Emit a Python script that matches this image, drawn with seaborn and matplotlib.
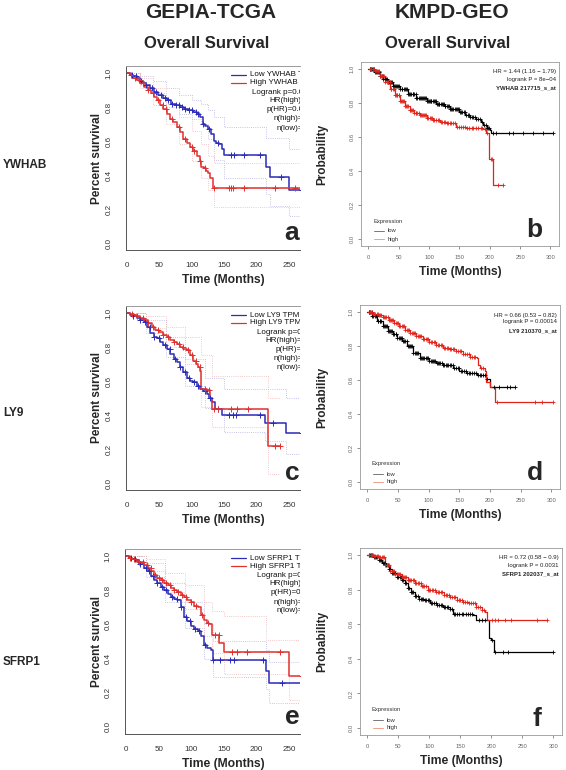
import numpy as np
import matplotlib.pyplot as plt
from matplotlib.lines import Line2D
import seaborn as sns

sns.set_style("white")
plt.rcParams['font.family'] = ['Liberation Sans', 'DejaVu Sans']

# ---------------- values ----------------
genes = ["YWHAB", "LY9", "SFRP1"]
gepia_letters = ["a", "c", "e"]
kmpd_letters = ["b", "d", "f"]

gepia_logrank = ["0.0057", "0.038", "0.028"]
gepia_hr = ["1.6", "0.71", "0.7"]
gepia_phr = ["0.0062", "0.04", "0.028"]
gepia_nhigh = ["535", "534", "535"]
gepia_nlow = ["535", "532", "535"]

kmpd_hr = ["1.44 (1.16 \u2212 1.79)", "0.66 (0.53 \u2212 0.82)", "0.72 (0.58 \u2212 0.9)"]
kmpd_p = ["8e\u221204", "0.00014", "0.0031"]
kmpd_probe = ["217715_s_at", "210370_s_at", "202037_s_at"]

# GEPIA - YWHAB
ywhab_g_low_t = [0, 5, 10, 15, 20, 25, 30, 36, 42, 48, 55, 61, 68, 75, 82, 88, 95, 102, 108, 113, 117, 121, 125, 130, 134, 138, 142, 146, 150, 214, 220, 250, 290]
ywhab_g_low_s = [1.0, 0.99, 0.98, 0.97, 0.95, 0.94, 0.93, 0.91, 0.89, 0.87, 0.85, 0.84, 0.82, 0.81, 0.80, 0.79, 0.78, 0.77, 0.76, 0.74, 0.70, 0.69, 0.67, 0.64, 0.60, 0.59, 0.58, 0.55, 0.517, 0.45, 0.39, 0.31, 0.31]
ywhab_g_high_t = [0, 5, 10, 15, 20, 26, 32, 37, 41, 46, 51, 56, 61, 66, 71, 77, 82, 87, 92, 97, 102, 108, 112, 115, 119, 122, 125, 128, 132, 290]
ywhab_g_high_s = [1.0, 0.99, 0.97, 0.96, 0.94, 0.92, 0.90, 0.88, 0.86, 0.84, 0.81, 0.79, 0.76, 0.73, 0.71, 0.68, 0.65, 0.61, 0.59, 0.566, 0.54, 0.51, 0.48, 0.45, 0.44, 0.425, 0.41, 0.38, 0.325, 0.325]
ywhab_g_low_cens = [8, 14, 22, 30, 38, 45, 52, 58, 64, 70, 76, 80, 85, 90, 96, 100, 106, 110, 118, 126, 140, 160, 165, 180, 205, 238, 270]
ywhab_g_high_cens = [6, 12, 18, 25, 33, 40, 48, 55, 60, 70, 80, 90, 100, 104, 112, 120, 135, 158, 161, 164, 180, 228, 260]
ywhab_g_low_ci_t = [0, 20, 40, 60, 80, 100, 115, 125, 135, 150, 214, 220, 250, 290]
ywhab_g_low_up = [1.0, 0.98, 0.95, 0.91, 0.87, 0.84, 0.82, 0.78, 0.74, 0.68, 0.62, 0.62, 0.55, 0.55]
ywhab_g_low_lo = [1.0, 0.93, 0.88, 0.80, 0.76, 0.73, 0.70, 0.61, 0.49, 0.38, 0.29, 0.22, 0.16, 0.16]
ywhab_g_high_ci_t = [0, 20, 40, 60, 80, 100, 115, 125, 135, 290]
ywhab_g_high_up = [1.0, 0.97, 0.91, 0.82, 0.74, 0.66, 0.58, 0.51, 0.47, 0.47]
ywhab_g_high_lo = [1.0, 0.91, 0.81, 0.70, 0.58, 0.48, 0.38, 0.31, 0.21, 0.21]

# GEPIA - LY9
ly9_g_low_t = [0, 5, 10, 15, 20, 26, 31, 36, 41, 46, 51, 56, 61, 67, 72, 77, 82, 87, 92, 97, 102, 108, 113, 118, 123, 127, 131, 136, 147, 213, 246, 290]
ly9_g_low_s = [1.0, 0.99, 0.98, 0.97, 0.96, 0.947, 0.92, 0.88, 0.86, 0.85, 0.83, 0.81, 0.79, 0.76, 0.73, 0.71, 0.68, 0.65, 0.62, 0.60, 0.594, 0.57, 0.555, 0.54, 0.525, 0.50, 0.476, 0.437, 0.40, 0.353, 0.294, 0.294]
ly9_g_high_t = [0, 5, 10, 15, 20, 26, 32, 38, 44, 50, 56, 61, 67, 72, 77, 82, 87, 92, 97, 102, 107, 110, 113, 115, 123, 128, 131, 218, 236]
ly9_g_high_s = [1.0, 0.995, 0.99, 0.98, 0.97, 0.957, 0.94, 0.92, 0.90, 0.89, 0.87, 0.86, 0.84, 0.83, 0.82, 0.80, 0.79, 0.78, 0.75, 0.72, 0.70, 0.68, 0.66, 0.555, 0.545, 0.50, 0.435, 0.22, 0.22]
ly9_g_low_cens = [10, 20, 28, 35, 42, 50, 58, 66, 74, 82, 90, 96, 104, 110, 120, 128, 140, 158, 163, 168, 205, 225, 270]
ly9_g_high_cens = [8, 16, 24, 32, 40, 48, 56, 64, 72, 80, 86, 94, 100, 106, 112, 120, 126, 135, 140, 160, 170, 186, 228, 236]
ly9_g_low_ci_t = [0, 30, 60, 90, 120, 150, 213, 246, 290]
ly9_g_low_up = [1.0, 0.96, 0.86, 0.73, 0.62, 0.555, 0.555, 0.50, 0.50]
ly9_g_low_lo = [1.0, 0.88, 0.74, 0.57, 0.44, 0.30, 0.25, 0.17, 0.17]
ly9_g_high_ci_t = [0, 30, 60, 90, 115, 131, 218, 236]
ly9_g_high_up = [1.0, 0.98, 0.92, 0.86, 0.75, 0.63, 0.50, 0.50]
ly9_g_high_lo = [1.0, 0.91, 0.80, 0.70, 0.45, 0.33, 0.055, 0.055]

# GEPIA - SFRP1
sfrp1_g_low_t = [0, 5, 10, 15, 20, 28, 34, 39, 43, 48, 53, 59, 64, 69, 74, 79, 84, 89, 94, 99, 105, 110, 115, 120, 125, 130, 133, 215, 219, 290]
sfrp1_g_low_s = [1.0, 0.99, 0.98, 0.97, 0.955, 0.93, 0.91, 0.885, 0.86, 0.84, 0.82, 0.80, 0.78, 0.76, 0.75, 0.74, 0.70, 0.646, 0.62, 0.59, 0.575, 0.56, 0.53, 0.48, 0.46, 0.45, 0.39, 0.325, 0.26, 0.26]
sfrp1_g_high_t = [0, 5, 10, 15, 20, 28, 34, 39, 43, 48, 53, 59, 64, 69, 74, 79, 84, 89, 94, 99, 105, 110, 115, 120, 124, 128, 132, 143, 150, 250, 290]
sfrp1_g_high_s = [1.0, 0.99, 0.985, 0.975, 0.965, 0.947, 0.93, 0.91, 0.89, 0.87, 0.86, 0.84, 0.83, 0.81, 0.80, 0.79, 0.77, 0.76, 0.74, 0.73, 0.71, 0.70, 0.656, 0.626, 0.61, 0.60, 0.54, 0.49, 0.44, 0.296, 0.296]
sfrp1_g_low_cens = [8, 14, 22, 30, 36, 42, 48, 56, 62, 70, 78, 84, 92, 98, 106, 112, 122, 134, 145, 160, 165, 210, 240, 275]
sfrp1_g_high_cens = [6, 12, 20, 26, 32, 38, 44, 50, 56, 62, 68, 74, 80, 86, 92, 100, 108, 116, 126, 136, 142, 163, 170, 185, 237, 270]
sfrp1_g_low_ci_t = [0, 30, 60, 90, 120, 133, 215, 219, 290]
sfrp1_g_low_up = [1.0, 0.96, 0.84, 0.73, 0.60, 0.50, 0.45, 0.38, 0.38]
sfrp1_g_low_lo = [1.0, 0.88, 0.73, 0.58, 0.40, 0.29, 0.22, 0.14, 0.14]
sfrp1_g_high_ci_t = [0, 30, 60, 90, 120, 132, 150, 215, 250, 290]
sfrp1_g_high_up = [1.0, 0.98, 0.90, 0.83, 0.73, 0.68, 0.65, 0.51, 0.51, 0.51]
sfrp1_g_high_lo = [1.0, 0.91, 0.79, 0.69, 0.53, 0.43, 0.31, 0.31, 0.16, 0.16]

# KMPD - YWHAB
ywhab_k_low_t = [0, 10, 20, 25, 33, 41, 52, 65, 79, 96, 112, 125, 134, 150, 160, 167, 178, 185, 189, 195, 200, 202, 304]
ywhab_k_low_s = [1.0, 0.98, 0.955, 0.94, 0.92, 0.90, 0.88, 0.855, 0.83, 0.81, 0.795, 0.78, 0.766, 0.746, 0.73, 0.717, 0.707, 0.69, 0.668, 0.65, 0.64, 0.625, 0.625]
ywhab_k_high_t = [0, 10, 19, 28, 36, 44, 52, 60, 68, 76, 85, 96, 107, 118, 129, 145, 161, 189, 194, 199, 206, 221]
ywhab_k_high_s = [1.0, 0.985, 0.96, 0.92, 0.88, 0.845, 0.81, 0.78, 0.756, 0.74, 0.727, 0.71, 0.70, 0.69, 0.68, 0.66, 0.654, 0.648, 0.625, 0.47, 0.316, 0.316]
ywhab_k_low_cens = [2, 3, 5, 6, 8, 9, 11, 13, 15, 16, 18, 20, 22, 24, 25, 27, 29, 31, 33, 34, 36, 37, 39, 41, 43, 44, 46, 48, 49, 51, 53, 55, 56, 58, 60, 62, 64, 65, 67, 69, 71, 73, 74, 76, 78, 79, 81, 83, 85, 86, 88, 90, 92, 94, 95, 97, 98, 100, 101, 103, 104, 106, 108, 110, 111, 113, 114, 116, 117, 119, 121, 123, 124, 126, 127, 129, 131, 133, 135, 136, 138, 140, 142, 144, 146, 148, 149, 151, 153, 155, 157, 159, 161, 164, 166, 168, 170, 173, 175, 178, 181, 184, 187, 190, 193, 195, 197, 199, 205, 211, 232, 238, 254, 271, 287, 304]
ywhab_k_high_cens = [2, 4, 5, 7, 9, 11, 12, 14, 16, 17, 19, 21, 23, 25, 26, 28, 30, 32, 33, 35, 37, 38, 40, 42, 44, 45, 47, 48, 50, 51, 53, 54, 56, 57, 59, 61, 62, 64, 66, 68, 69, 71, 72, 74, 76, 78, 79, 81, 83, 85, 86, 88, 90, 91, 93, 95, 97, 99, 101, 103, 105, 107, 109, 112, 114, 116, 119, 121, 124, 126, 129, 131, 134, 137, 140, 143, 146, 149, 152, 156, 159, 163, 166, 170, 173, 177, 181, 185, 188, 192, 196, 202, 204, 213, 221]

# KMPD - LY9
ly9_k_low_t = [0, 8, 16, 25, 33, 41, 49, 57, 65, 74, 85, 101, 112, 123, 140, 150, 161, 178, 194, 200, 241]
ly9_k_low_s = [1.0, 0.975, 0.945, 0.917, 0.89, 0.868, 0.845, 0.828, 0.80, 0.76, 0.73, 0.71, 0.70, 0.69, 0.67, 0.655, 0.64, 0.63, 0.605, 0.558, 0.558]
ly9_k_high_t = [0, 10, 18, 25, 35, 44, 52, 62, 70, 79, 90, 101, 112, 123, 135, 145, 156, 167, 178, 181, 184, 191, 194, 200, 208, 303]
ly9_k_high_s = [1.0, 0.99, 0.98, 0.97, 0.95, 0.935, 0.917, 0.895, 0.875, 0.858, 0.84, 0.82, 0.805, 0.79, 0.78, 0.77, 0.75, 0.735, 0.73, 0.69, 0.67, 0.65, 0.59, 0.558, 0.473, 0.473]
ly9_k_low_cens = [2, 3, 5, 7, 8, 10, 12, 14, 15, 17, 18, 20, 21, 23, 25, 27, 29, 30, 32, 34, 36, 37, 39, 40, 42, 44, 46, 47, 49, 51, 53, 55, 56, 58, 60, 62, 64, 66, 68, 70, 71, 73, 75, 77, 79, 81, 83, 85, 87, 89, 91, 93, 95, 97, 99, 101, 103, 105, 107, 109, 111, 113, 115, 117, 119, 121, 123, 125, 128, 130, 132, 134, 137, 139, 142, 144, 147, 149, 152, 154, 157, 160, 163, 165, 168, 171, 174, 177, 180, 183, 186, 189, 192, 195, 206, 214, 227, 232, 241]
ly9_k_high_cens = [2, 4, 6, 8, 10, 11, 13, 15, 17, 19, 21, 23, 25, 27, 29, 31, 33, 35, 37, 38, 40, 42, 44, 46, 48, 50, 52, 54, 56, 58, 60, 62, 64, 66, 68, 70, 72, 74, 76, 78, 80, 82, 84, 86, 88, 90, 93, 95, 97, 99, 101, 103, 106, 108, 110, 112, 115, 117, 120, 122, 125, 127, 130, 132, 135, 137, 140, 142, 145, 148, 151, 153, 156, 159, 162, 165, 168, 171, 174, 176, 186, 189, 211, 273, 284, 303]

# KMPD - SFRP1
sfrp1_k_low_t = [0, 10, 18, 24, 29, 34, 39, 47, 55, 60, 65, 70, 76, 84, 91, 101, 112, 122, 133, 138, 170, 175, 196, 200, 204, 300]
sfrp1_k_low_s = [1.0, 0.99, 0.97, 0.955, 0.94, 0.92, 0.894, 0.875, 0.856, 0.835, 0.81, 0.785, 0.76, 0.748, 0.737, 0.725, 0.71, 0.70, 0.69, 0.66, 0.654, 0.625, 0.52, 0.51, 0.437, 0.437]
sfrp1_k_high_t = [0, 10, 18, 29, 37, 44, 55, 65, 76, 87, 97, 110, 123, 133, 144, 154, 164, 175, 185, 189, 193, 290]
sfrp1_k_high_s = [1.0, 0.995, 0.99, 0.94, 0.91, 0.89, 0.875, 0.855, 0.837, 0.82, 0.80, 0.785, 0.77, 0.755, 0.74, 0.73, 0.72, 0.70, 0.683, 0.673, 0.627, 0.627]
sfrp1_k_low_cens = [2, 4, 6, 8, 10, 12, 14, 16, 18, 20, 22, 25, 27, 28, 30, 33, 35, 37, 39, 41, 43, 45, 48, 50, 52, 54, 56, 58, 61, 63, 65, 67, 70, 72, 74, 77, 79, 81, 84, 86, 88, 90, 93, 95, 98, 100, 103, 105, 108, 110, 113, 115, 118, 120, 123, 125, 128, 130, 133, 136, 139, 142, 145, 148, 152, 155, 159, 162, 165, 168, 180, 185, 190, 201, 206, 218, 227, 300]
sfrp1_k_high_cens = [2, 3, 5, 7, 9, 11, 13, 15, 17, 19, 21, 23, 25, 27, 29, 31, 33, 35, 37, 39, 41, 43, 45, 47, 49, 51, 53, 55, 57, 59, 61, 63, 65, 67, 69, 71, 73, 75, 77, 79, 82, 84, 86, 88, 90, 92, 95, 97, 99, 101, 104, 106, 109, 111, 114, 116, 119, 121, 124, 126, 129, 131, 134, 136, 139, 141, 144, 147, 150, 152, 155, 158, 161, 164, 167, 170, 173, 176, 179, 182, 185, 188, 201, 206, 211, 222, 232, 274, 290]

gepia_curves = [
    (ywhab_g_low_t, ywhab_g_low_s, ywhab_g_low_cens, ywhab_g_high_t, ywhab_g_high_s, ywhab_g_high_cens,
     ywhab_g_low_ci_t, ywhab_g_low_up, ywhab_g_low_lo, ywhab_g_high_ci_t, ywhab_g_high_up, ywhab_g_high_lo),
    (ly9_g_low_t, ly9_g_low_s, ly9_g_low_cens, ly9_g_high_t, ly9_g_high_s, ly9_g_high_cens,
     ly9_g_low_ci_t, ly9_g_low_up, ly9_g_low_lo, ly9_g_high_ci_t, ly9_g_high_up, ly9_g_high_lo),
    (sfrp1_g_low_t, sfrp1_g_low_s, sfrp1_g_low_cens, sfrp1_g_high_t, sfrp1_g_high_s, sfrp1_g_high_cens,
     sfrp1_g_low_ci_t, sfrp1_g_low_up, sfrp1_g_low_lo, sfrp1_g_high_ci_t, sfrp1_g_high_up, sfrp1_g_high_lo),
]
kmpd_curves = [
    (ywhab_k_low_t, ywhab_k_low_s, ywhab_k_low_cens, ywhab_k_high_t, ywhab_k_high_s, ywhab_k_high_cens),
    (ly9_k_low_t, ly9_k_low_s, ly9_k_low_cens, ly9_k_high_t, ly9_k_high_s, ly9_k_high_cens),
    (sfrp1_k_low_t, sfrp1_k_low_s, sfrp1_k_low_cens, sfrp1_k_high_t, sfrp1_k_high_s, sfrp1_k_high_cens),
]

# ---------------- layout (pixels, top-left origin) ----------------
W, H = 566, 770
fig = plt.figure(figsize=(W / 100, H / 100), dpi=100)
fig.patch.set_facecolor("white")

gepia_boxes = [(126, 66, 300, 250), (126, 306, 300, 490), (125, 549, 300, 734)]
kmpd_boxes = [(361, 62, 559, 246), (360, 305, 560, 489), (360, 548, 562, 735)]
row_label_y = [165, 413, 662]

BLUE = "#2b2bb8"
RED = "#e03030"
BLUE_CI = "#b2b2e2"
RED_CI = "#f0b6b6"
K_RED = "#e2231a"


def fx(x):
    return x / W


def fy(y):
    return 1 - y / H


def add_box(l, t, r, b):
    return fig.add_axes([fx(l), fy(b), (r - l) / W, (b - t) / H])


def step_value(t, s, x):
    idx = np.searchsorted(np.asarray(t), np.asarray(x), side="right") - 1
    return np.asarray(s)[np.clip(idx, 0, len(s) - 1)]


def km_curve(ax, t, s, cens, color, lw, ms, mlw):
    sns.lineplot(x=t, y=s, drawstyle="steps-post", color=color, linewidth=lw,
                 estimator=None, sort=False, ax=ax)
    sns.scatterplot(x=cens, y=step_value(t, s, cens), marker="+", color=color,
                    s=ms, linewidth=mlw, ax=ax, zorder=3)


def ci_curve(ax, t, s, color):
    sns.lineplot(x=t, y=s, drawstyle="steps-post", color=color, linewidth=0.6,
                 linestyle=(0, (1, 1.6)), estimator=None, sort=False, ax=ax)


# headers
fig.text(fx(211), fy(13), "GEPIA-TCGA", ha="center", va="center", fontsize=15, fontweight="bold")
fig.text(fx(452), fy(13), "KMPD-GEO", ha="center", va="center", fontsize=15, fontweight="bold")
fig.text(fx(207), fy(43), "Overall Survival", ha="center", va="center", fontsize=12, fontweight="bold")
fig.text(fx(448), fy(43), "Overall Survival", ha="center", va="center", fontsize=12, fontweight="bold")

yt = [0, 0.2, 0.4, 0.6, 0.8, 1.0]
ytl = ["0.0", "0.2", "0.4", "0.6", "0.8", "1.0"]

for i, gene in enumerate(genes):
    fig.text(fx(3), fy(row_label_y[i]), gene, ha="left", va="center", fontsize=8.5, fontweight="bold")

    # ---------- GEPIA panel ----------
    l, t, r, b = gepia_boxes[i]
    ax = add_box(l, t, r, b)
    (lt, ls, lc, ht, hs, hc, lct, lup, llo, hct, hup, hlo) = gepia_curves[i]
    ci_curve(ax, lct, lup, BLUE_CI)
    ci_curve(ax, lct, llo, BLUE_CI)
    ci_curve(ax, hct, hup, RED_CI)
    ci_curve(ax, hct, hlo, RED_CI)
    km_curve(ax, lt, ls, lc, BLUE, 1.1, 14, 0.7)
    km_curve(ax, ht, hs, hc, RED, 1.1, 14, 0.7)
    ax.set_xlim(-1.5, 267)
    ax.set_ylim(-0.041, 1.041)
    ax.set_xticks([0, 50, 100, 150, 200, 250])
    ax.set_yticks(yt)
    ax.set_yticklabels(ytl, rotation=90, va="center")
    ax.tick_params(labelsize=5.8, length=3.5, width=0.6, colors="#333333", pad=5)
    ax.tick_params(axis="y", pad=6)
    ax.set_xlabel("")
    ax.set_ylabel("")
    for side in ["left", "bottom", "top"]:
        ax.spines[side].set_color("#555555")
        ax.spines[side].set_linewidth(0.7)
    ax.spines["top"].set_color("#999999")
    ax.spines["right"].set_visible(False)

    fig.text(fx(97), fy((t + b) / 2), "Percent survival", rotation=90, ha="center", va="center",
             fontsize=8.5, fontweight="bold")
    fig.text(fx(223), fy(b + 30), "Time (Months)", ha="center", va="center", fontsize=8.7, fontweight="bold")

    # legend lines and text (cropped at the right edge like the original)
    for dy, col, lab in [(9, BLUE, "Low %s TPM" % gene), (17, RED, "High %s TPM" % gene)]:
        fig.add_artist(Line2D([fx(231), fx(246)], [fy(t + dy), fy(t + dy)], color=col, lw=0.9,
                              transform=fig.transFigure))
        txt = fig.text(fx(250), fy(t + dy), lab, ha="left", va="center", fontsize=5.8, color="#111111")
        txt.set_clip_box(ax.bbox)
        txt.set_clip_on(True)
    stats = ["Logrank p=%s" % gepia_logrank[i], "HR(high)=%s" % gepia_hr[i],
             "p(HR)=%s" % gepia_phr[i], "n(high)=%s" % gepia_nhigh[i], "n(low)=%s" % gepia_nlow[i]]
    for dy, s_txt in zip([26.5, 34.5, 43.5, 53, 62], stats):
        txt = fig.text(fx(317), fy(t + dy), s_txt, ha="right", va="center", fontsize=5.8, color="#111111")
        txt.set_clip_box(ax.bbox)
        txt.set_clip_on(True)
    fig.text(fx(292), fy(b - 17), gepia_letters[i], ha="center", va="center", fontsize=19, fontweight="bold")

    # ---------- KMPD panel ----------
    l, t, r, b = kmpd_boxes[i]
    ax = add_box(l, t, r, b)
    (lt, ls, lc, ht, hs, hc) = kmpd_curves[i]
    km_curve(ax, lt, ls, lc, "black", 0.9, 11, 0.6)
    km_curve(ax, ht, hs, hc, K_RED, 0.9, 11, 0.6)
    ax.set_xlim(-12, 314)
    ax.set_ylim(-0.04, 1.04)
    ax.set_xticks([0, 50, 100, 150, 200, 250, 300])
    ax.set_yticks(yt)
    ax.set_yticklabels(ytl, rotation=90, va="center")
    ax.tick_params(labelsize=4.2, length=2.5, width=0.5, colors="#666666", pad=4)
    ax.tick_params(axis="y", pad=2)
    ax.tick_params(bottom=True, left=True)
    ax.set_xlabel("")
    ax.set_ylabel("")
    for side in ax.spines:
        ax.spines[side].set_color("#999999")
        ax.spines[side].set_linewidth(0.6)

    fig.text(fx(322), fy((t + b) / 2), "Probability", rotation=90, ha="center", va="center",
             fontsize=8.5, fontweight="bold")
    fig.text(fx((l + r) / 2), fy(b + 26), "Time (Months)", ha="center", va="center", fontsize=8.7, fontweight="bold")

    fig.text(fx(r - 3), fy(t + 10), "HR = %s" % kmpd_hr[i], ha="right", va="center", fontsize=4.3, color="#222222")
    fig.text(fx(r - 3), fy(t + 17), "logrank P = %s" % kmpd_p[i], ha="right", va="center", fontsize=4.3, color="#222222")
    fig.text(fx(r - 3), fy(t + 26), "%s %s" % (gene, kmpd_probe[i]), ha="right", va="center", fontsize=4.3,
             fontweight="bold")

    fig.text(fx(l + 12), fy(b - 25), "Expression", ha="left", va="center", fontsize=4.2, color="#333333")
    for dy, col, lab in [(15, "#777777", "low"), (7, "#eda08a", "high")]:
        fig.add_artist(Line2D([fx(l + 13), fx(l + 23)], [fy(b - dy), fy(b - dy)], color=col, lw=0.7,
                              transform=fig.transFigure))
        fig.text(fx(l + 27), fy(b - dy), lab, ha="left", va="center", fontsize=4.2, color="#333333")
    fig.text(fx(r - 25), fy(b - 16), kmpd_letters[i], ha="center", va="center", fontsize=19, fontweight="bold")

fig.savefig("out.png", dpi=100, facecolor="white")
